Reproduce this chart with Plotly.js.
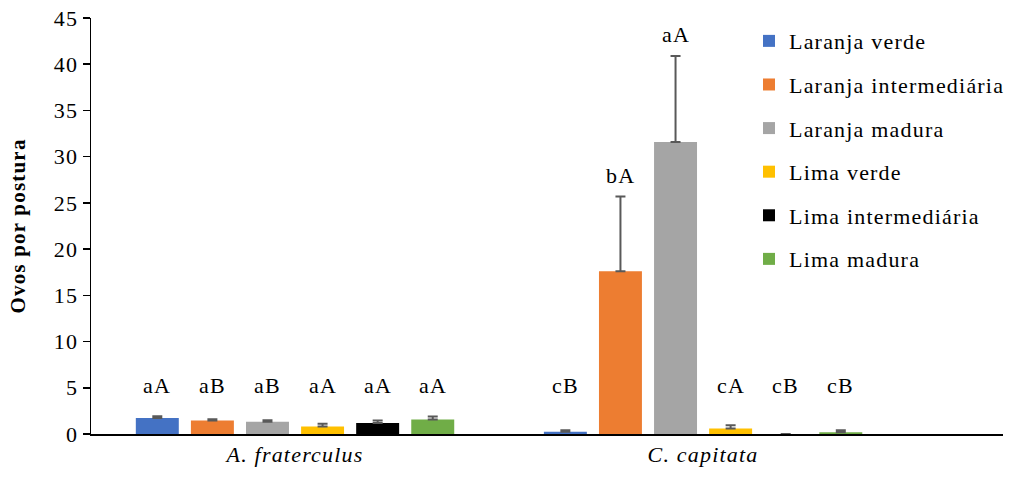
<!DOCTYPE html>
<html>
<head>
<meta charset="utf-8">
<script src="https://cdn.plot.ly/plotly-3.0.1.min.js"></script>
<style>
html,body{margin:0;padding:0;background:#fff;}
#chart{width:1011px;height:480px;}
svg text{letter-spacing:1.2px;}
</style>
</head>
<body>
<div id="chart"></div>
<script>
const categories = ['A. fraterculus', 'C. capitata'];
const seriesNames = ['Laranja verde', 'Laranja intermediária', 'Laranja madura', 'Lima verde', 'Lima intermediária', 'Lima madura'];
const seriesColors = ['#4472C4', '#ED7D31', '#A5A5A5', '#FFC000', '#000000', '#70AD47'];
const fraterculusMeans = [1.72, 1.45, 1.33, 0.80, 1.20, 1.58];
const fraterculusErrors = [0.20, 0.15, 0.15, 0.30, 0.25, 0.30];
const capitataMeans = [0.25, 17.6, 31.6, 0.60, 0.0, 0.20];
const capitataErrors = [0.15, 8.1, 9.3, 0.35, 0.0, 0.20];
const fraterculusLetters = ['aA', 'aB', 'aB', 'aA', 'aA', 'aA'];
const capitataLetters = ['cB', 'bA', 'aA', 'cA', 'cB', 'cB'];

const font = 'Liberation Serif';
const bargap = 0.19;
const nSeries = seriesNames.length;
const slot = (1 - bargap) / nSeries;

const traces = seriesNames.map((name, i) => ({
  type: 'bar',
  name: name,
  legendgroup: 'g' + i,
  x: [0, 1],
  y: [fraterculusMeans[i], capitataMeans[i]],
  marker: {color: seriesColors[i]},
  error_y: {type: 'data', symmetric: false, array: [fraterculusErrors[i], capitataErrors[i]], arrayminus: [0, 0],
            visible: true, color: '#595959', thickness: 2, width: 5},
  hoverinfo: 'skip'
}));

const annotations = [];
[[fraterculusMeans, fraterculusErrors, fraterculusLetters], [capitataMeans, capitataErrors, capitataLetters]].forEach((grp, c) => {
  grp[0].forEach((v, i) => {
    const top = v + grp[1][i];
    annotations.push({
      x: c + (i - (nSeries - 1) / 2) * slot,
      y: Math.max(top + 2.3, 5.2),
      xref: 'x', yref: 'y',
      text: grp[2][i],
      showarrow: false,
      yanchor: 'middle',
      font: {family: font, size: 22, color: '#000'}
    });
  });
});

const plotW = 1011 - 91 - 8;
const layout = {
  width: 1011, height: 480,
  margin: {l: 91, r: 8, t: 18, b: 45.5, autoexpand: false},
  paper_bgcolor: '#fff', plot_bgcolor: '#fff',
  barmode: 'group', bargap: bargap, bargroupgap: 0.22,
  showlegend: true,
  legend: {x: (749 - 91) / plotW, xref: 'paper', xanchor: 'left', y: 0.995, yanchor: 'top',
           font: {family: font, size: 22, color: '#000'}, tracegroupgap: 12, bgcolor: 'rgba(0,0,0,0)'},
  xaxis: {
    range: [-0.5, 1.735],
    tickvals: [0, 1],
    ticktext: categories.map(c => '<i>' + c + '</i>'),
    showgrid: false, zeroline: false,
    showline: true, linecolor: '#000', linewidth: 2,
    ticks: '', tickfont: {family: font, size: 22, color: '#000'}
  },
  yaxis: {
    range: [0, 45], tickvals: [0, 5, 10, 15, 20, 25, 30, 35, 40, 45],
    showgrid: false, zeroline: false,
    showline: true, linecolor: '#000', linewidth: 1.5,
    ticks: 'outside', ticklen: 7, tickwidth: 1.5, tickcolor: '#000',
    tickfont: {family: font, size: 22, color: '#000'},
    title: {text: '<b>Ovos por postura</b>', font: {family: font, size: 21, color: '#000'}, standoff: 22}
  },
  annotations: annotations
};
Plotly.newPlot('chart', traces, layout, {staticPlot: true});
</script>
</body>
</html>
